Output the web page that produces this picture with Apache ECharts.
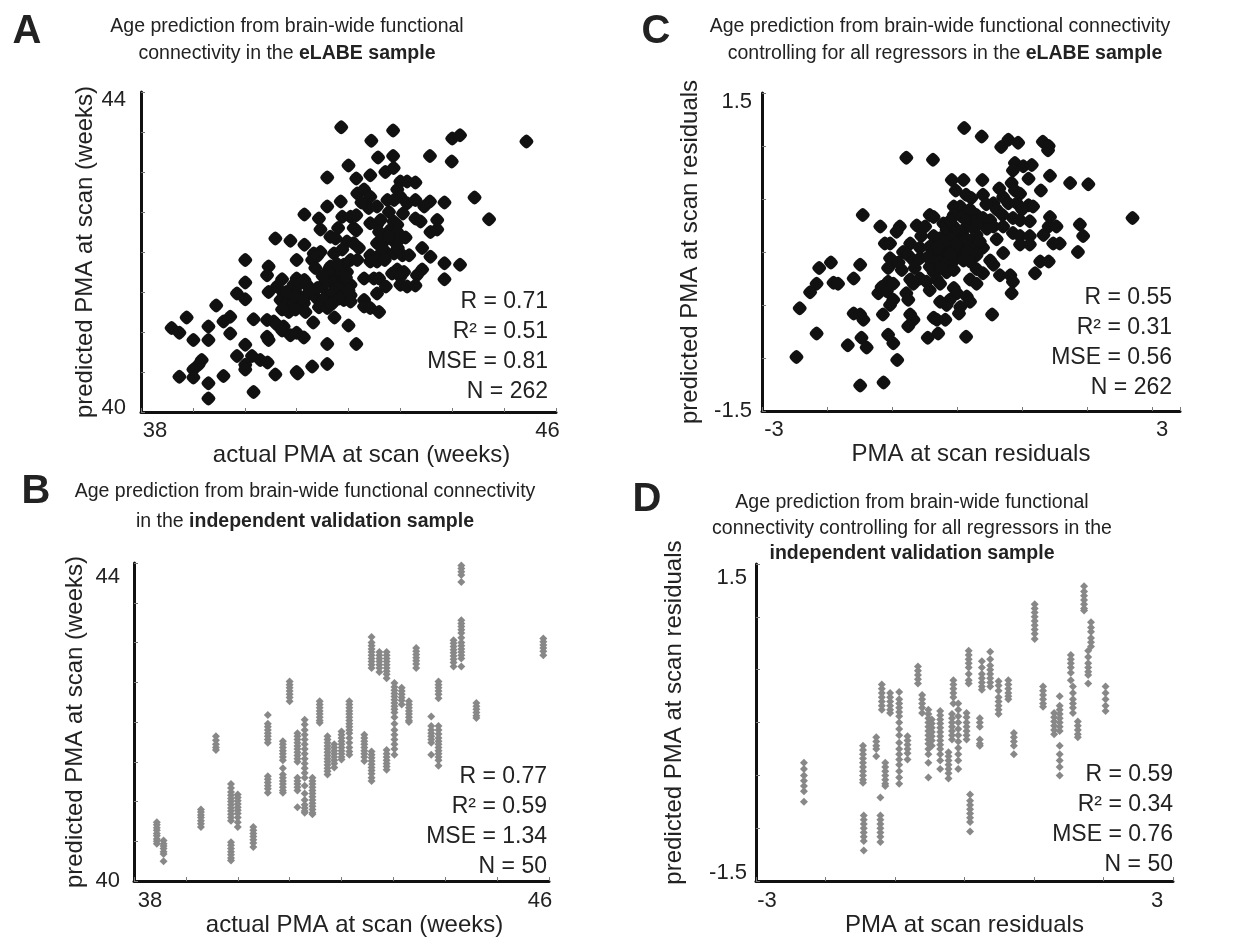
<!DOCTYPE html>
<html><head><meta charset="utf-8">
<script src="https://cdn.jsdelivr.net/npm/echarts@6/dist/echarts.min.js"></script>
<style>html,body{margin:0;padding:0;background:#fff}#c{width:1250px;height:938px}</style>
</head><body><div id="c"></div>
<script>
// ---------- DATA ----------
// Panel A: eLABE sample, actual vs predicted PMA (weeks)
const ptsA = [[41.86,43.56],[42.86,43.52],[42.44,43.39],[44.0,43.42],[44.15,43.46],[45.43,43.38],[42.57,43.18],[42.86,43.2],[43.57,43.2],[43.99,43.13],[42.0,43.08],[42.71,43.0],[42.87,43.05],[41.59,42.93],[42.15,42.92],[42.42,42.96],[43.0,42.88],[43.13,42.88],[43.29,42.87],[42.17,42.73],[42.3,42.78],[42.42,42.69],[42.94,42.78],[43.0,42.69],[43.13,42.61],[42.75,42.65],[42.88,42.65],[44.43,42.68],[41.85,42.63],[43.29,42.65],[43.57,42.63],[43.85,42.62],[41.59,42.57],[42.39,42.55],[42.55,42.57],[43.46,42.57],[41.15,42.47],[41.43,42.42],[41.88,42.44],[42.04,42.44],[42.15,42.46],[42.42,42.36],[42.55,42.34],[42.87,42.38],[42.94,42.34],[43.29,42.42],[43.39,42.38],[43.71,42.4],[44.71,42.41],[41.46,42.28],[42.15,42.27],[42.59,42.25],[42.81,42.28],[42.94,42.25],[43.58,42.25],[43.71,42.28],[40.59,42.17],[40.88,42.14],[41.65,42.19],[41.75,42.17],[41.97,42.13],[42.1,42.11],[42.55,42.11],[42.68,42.13],[42.88,42.13],[42.97,42.15],[41.15,42.09],[43.42,42.05],[41.33,41.98],[41.46,42.0],[41.72,41.98],[41.88,42.03],[42.42,41.96],[42.59,41.96],[42.75,41.98],[42.88,41.98],[43.04,41.96],[43.17,41.96],[43.58,41.94],[40.01,41.9],[41.0,41.9],[41.3,41.9],[42.04,41.9],[42.17,41.9],[42.42,41.88],[42.55,41.88],[43.85,41.86],[44.15,41.84],[40.46,41.82],[41.36,41.8],[41.65,41.82],[41.91,41.84],[42.94,41.78],[43.07,41.75],[43.42,41.78],[40.43,41.71],[41.0,41.67],[41.15,41.65],[41.59,41.73],[41.78,41.71],[41.97,41.75],[42.3,41.67],[42.49,41.67],[42.59,41.67],[42.84,41.73],[43.0,41.69],[43.32,41.71],[43.85,41.66],[40.72,41.66],[40.01,41.62],[40.94,41.59],[41.07,41.61],[41.2,41.59],[41.49,41.57],[41.72,41.59],[41.91,41.61],[42.04,41.59],[40.62,41.57],[43.0,41.59],[43.13,41.57],[43.29,41.58],[42.72,41.57],[40.46,41.5],[40.75,41.48],[39.85,41.48],[40.01,41.41],[41.0,41.48],[41.2,41.46],[41.59,41.46],[41.75,41.44],[41.91,41.48],[42.04,41.46],[42.55,41.48],[40.69,41.4],[40.82,41.36],[40.94,41.38],[41.39,41.42],[41.52,41.4],[41.72,41.38],[41.91,41.4],[42.04,41.38],[42.3,41.4],[41.14,41.36],[39.45,41.33],[41.43,41.31],[41.59,41.3],[42.3,41.32],[42.42,41.3],[42.59,41.25],[40.72,41.28],[40.85,41.25],[40.98,41.28],[41.17,41.25],[38.88,41.18],[39.72,41.19],[39.59,41.13],[40.17,41.16],[40.43,41.15],[40.56,41.13],[40.62,41.09],[40.75,41.07],[41.32,41.12],[41.73,41.18],[38.59,41.05],[38.74,40.99],[39.3,41.07],[39.72,40.98],[40.72,41.02],[40.88,40.96],[41.0,40.99],[41.14,40.93],[42.0,41.08],[39.01,40.9],[39.3,40.9],[40.43,40.94],[40.46,40.9],[40.01,40.84],[41.59,40.85],[42.15,40.85],[39.85,40.7],[40.14,40.7],[40.3,40.65],[40.44,40.62],[39.17,40.65],[39.11,40.59],[39.01,40.53],[40.01,40.59],[40.01,40.53],[41.3,40.57],[41.59,40.6],[41.0,40.5],[41.02,40.48],[40.59,40.47],[38.74,40.44],[39.01,40.43],[39.59,40.45],[39.3,40.36],[40.17,40.25],[39.3,40.17],
[41.65,41.65],[41.8,41.55],[41.85,41.75],[41.7,41.5],[41.55,41.62],[41.95,41.68],[41.82,41.42],[41.62,41.78],[41.78,41.85],[41.5,41.7],[42.0,41.52],[41.68,41.35],[41.4,41.55],[41.25,41.52],[41.1,41.42],[40.95,41.45],[40.8,41.5],[42.65,42.05],[42.78,42.2],[42.7,41.9],[42.95,42.05],[43.1,42.18],[42.62,42.4],[42.78,42.5],[43.05,42.48],[42.25,42.62],[42.1,42.3],[41.8,42.3],[42.2,42.05],[41.4,41.95]];

// Panel C: eLABE sample residuals
const ptsC = [[0.11,1.17],[0.38,1.09],[0.79,1.06],[0.94,1.03],[0.68,0.99],[1.32,1.04],[1.41,1.0],[1.4,0.96],[-0.78,0.89],[-0.37,0.87],[0.89,0.84],[1.02,0.81],[1.15,0.82],[0.86,0.77],[1.43,0.72],[1.74,0.65],[2.02,0.64],[-0.08,0.68],[0.1,0.68],[0.39,0.68],[1.1,0.69],[0.84,0.65],[0.89,0.58],[0.97,0.55],[1.29,0.58],[-0.02,0.58],[0.14,0.54],[0.22,0.51],[0.4,0.54],[0.71,0.52],[0.79,0.46],[0.92,0.46],[1.1,0.44],[1.17,0.43],[-0.05,0.43],[0.05,0.43],[0.56,0.46],[0.61,0.4],[-1.45,0.35],[-0.42,0.35],[-0.36,0.33],[-0.05,0.35],[0.08,0.33],[0.15,0.3],[0.3,0.35],[0.4,0.32],[0.51,0.3],[2.7,0.32],[0.86,0.32],[0.97,0.3],[1.12,0.29],[1.43,0.33],[1.41,0.24],[-1.18,0.24],[-0.88,0.24],[-0.93,0.19],[-0.62,0.25],[-0.49,0.24],[-0.21,0.27],[-0.16,0.21],[-0.05,0.24],[-0.01,0.18],[0.1,0.21],[0.22,0.24],[0.3,0.16],[0.46,0.22],[0.56,0.24],[0.71,0.24],[1.89,0.26],[1.53,0.24],[0.86,0.18],[0.97,0.15],[1.12,0.15],[1.94,0.15],[0.61,0.12],[-0.36,0.15],[-0.26,0.13],[-0.08,0.12],[0.05,0.1],[1.33,0.16],[1.48,0.08],[-1.11,0.08],[-1.03,0.08],[-0.72,0.08],[-0.57,0.04],[-0.42,0.05],[-0.16,0.05],[-0.05,0.02],[0.1,0.05],[0.25,0.05],[0.4,0.04],[1.58,0.08],[0.97,0.07],[1.12,0.07],[1.86,0.0],[-0.83,0.0],[-0.75,-0.03],[-0.36,0.0],[-0.26,-0.01],[-0.13,-0.03],[0.05,-0.01],[0.15,0.0],[0.3,-0.03],[0.71,-0.01],[-1.03,-0.06],[-0.98,-0.09],[-0.67,-0.08],[-0.57,-0.06],[-0.28,-0.09],[-0.16,-0.1],[-0.05,-0.08],[0.1,-0.08],[0.2,-0.09],[0.51,-0.08],[0.56,-0.12],[1.28,-0.09],[1.41,-0.09],[-1.94,-0.1],[-2.12,-0.15],[-1.49,-0.12],[-1.06,-0.15],[-0.85,-0.17],[-0.42,-0.14],[-0.36,-0.19],[-0.16,-0.19],[-0.05,-0.17],[0.3,-0.16],[0.4,-0.2],[1.2,-0.2],[0.66,-0.22],[0.82,-0.22],[-1.59,-0.25],[-1.9,-0.29],[-1.83,-0.3],[-2.16,-0.3],[-1.06,-0.28],[-0.98,-0.3],[-0.72,-0.26],[-0.67,-0.3],[-0.57,-0.25],[-0.47,-0.28],[-0.31,-0.26],[-0.26,-0.3],[0.2,-0.26],[0.3,-0.3],[0.86,-0.28],[-2.26,-0.38],[-1.21,-0.39],[-1.16,-0.33],[-1.08,-0.37],[-0.78,-0.39],[-0.42,-0.36],[-0.05,-0.34],[0.0,-0.39],[0.84,-0.39],[-0.98,-0.45],[-0.75,-0.45],[-1.03,-0.5],[0.15,-0.42],[0.2,-0.47],[-0.11,-0.45],[-0.16,-0.5],[-0.26,-0.47],[-2.42,-0.53],[0.05,-0.52],[0.03,-0.58],[-1.59,-0.58],[-1.49,-0.59],[-1.44,-0.64],[-1.14,-0.59],[-0.72,-0.59],[-0.67,-0.64],[-0.36,-0.62],[-0.31,-0.64],[-0.18,-0.64],[0.54,-0.59],[-0.75,-0.7],[-2.16,-0.77],[-1.06,-0.78],[-0.29,-0.77],[-0.45,-0.81],[0.14,-0.8],[-1.47,-0.81],[-0.98,-0.86],[-1.68,-0.88],[-1.39,-0.9],[-2.47,-0.99],[-0.92,-1.02],[-1.49,-1.26],[-1.13,-1.23],
[-0.2,0.1],[-0.1,-0.02],[0.0,0.08],[-0.3,0.05],[0.15,0.12],[-0.45,-0.05],[0.35,0.1],[0.45,0.45],[0.7,0.35],[-0.55,0.15],[-0.65,-0.15],[0.2,0.4],[0.65,0.6],[1.0,0.4],[-0.9,-0.1],[-0.1,0.3],[0.3,0.25],[-0.25,-0.15]];

// Panel B: independent validation sample, one strip per subject [actual PMA, predicted values]
const stripsB = [
[38.44,[40.74,40.71,40.67,40.64,40.6,40.57,40.53,40.5,40.47]],
[38.57,[40.51,40.47,40.44,40.41,40.37,40.34,40.25]],
[39.29,[40.9,40.87,40.83,40.8,40.76,40.72,40.68]],
[39.58,[41.82,41.77,41.72,41.68,41.65]],
[39.87,[41.22,41.17,41.12,41.08,41.04,41.0,40.96,40.92,40.88,40.84,40.8,40.76]],
[39.87,[40.49,40.45,40.41,40.37,40.33,40.29,40.26]],
[40.0,[41.09,41.05,41.01,40.97,40.93,40.89,40.85,40.8,40.74,40.68]],
[40.3,[40.68,40.64,40.6,40.56,40.52,40.48,40.43]],
[40.58,[42.09,41.98,41.94,41.9,41.86,41.82,41.78,41.74]],
[40.58,[41.32,41.28,41.24,41.2,41.16,41.11]],
[40.87,[41.76,41.72,41.68,41.64,41.6,41.56,41.52,41.42,41.34,41.3,41.26,41.22,41.18,41.14,41.11]],
[41.0,[42.51,42.47,42.43,42.39,42.35,42.31,42.26]],
[41.15,[41.86,41.82,41.78,41.74,41.7,41.66,41.62,41.58,41.54,41.5,41.3,41.26,41.22,41.18,41.14,40.93]],
[41.29,[42.03,41.97,41.9,41.84,41.78,41.72,41.66,41.6,41.54,41.48,41.42,41.36,41.3,41.2,41.1,41.02,40.96,40.92,40.88,40.86]],
[41.44,[41.3,41.26,41.22,41.18,41.14,41.1,41.06,41.02,40.98,40.94,40.9,40.86,40.84]],
[41.58,[42.26,42.22,42.18,42.14,42.1,42.06,42.02,41.99]],
[41.73,[41.82,41.78,41.74,41.7,41.66,41.62,41.58,41.54,41.5,41.46,41.42,41.38,41.34]],
[41.86,[41.72,41.68,41.64,41.6,41.56,41.52,41.48,41.43]],
[42.0,[41.88,41.84,41.8,41.76,41.72,41.68,41.64,41.6,41.56,41.53]],
[42.15,[42.26,42.22,42.18,42.14,42.1,42.06,42.02,41.98,41.94,41.9,41.86,41.8,41.74,41.68,41.63,41.59]],
[42.44,[41.84,41.8,41.76,41.72,41.68,41.64,41.6,41.56,41.51]],
[42.58,[43.07,43.0,42.96,42.92,42.88,42.84,42.8,42.76,42.72,42.68]],
[42.58,[41.63,41.59,41.55,41.51,41.47,41.43,41.39,41.35,41.3,41.26]],
[42.73,[42.88,42.84,42.8,42.76,42.72,42.68,42.63]],
[42.87,[42.88,42.84,42.8,42.76,42.72,42.68,42.64,42.6,42.55]],
[42.87,[41.65,41.6,41.56,41.52,41.48,41.44,41.4]],
[43.02,[42.49,42.44,42.4,42.36,42.32,42.28,42.24,42.2,42.16,42.12,42.06,41.98,41.9,41.84,41.78,41.72,41.66,41.59]],
[43.16,[42.43,42.39,42.35,42.31,42.27,42.22]],
[43.3,[42.26,42.22,42.18,42.14,42.1,42.06,42.02,42.0]],
[43.44,[42.93,42.89,42.85,42.81,42.77,42.73,42.68]],
[43.73,[42.07,41.95,41.9,41.86,41.82,41.78,41.74,41.59]],
[43.87,[42.51,42.47,42.43,42.39,42.35,42.3]],
[43.87,[41.95,41.9,41.85,41.8,41.76,41.72,41.68,41.64,41.6,41.56,41.52,41.45]],
[44.16,[43.03,42.99,42.95,42.91,42.87,42.83,42.79,42.75,42.7]],
[44.31,[44.01,43.97,43.93,43.89,43.85,43.76]],
[44.31,[43.28,43.24,43.2,43.16,43.12,43.06,43.0,42.96,42.92,42.88,42.84,42.8,42.7]],
[44.6,[42.24,42.2,42.16,42.12,42.08,42.05]],
[45.89,[43.05,43.01,42.97,42.93,42.89,42.84]]];

// Panel D: independent validation sample residuals
const stripsD = [
[-2.31,[-0.38,-0.44,-0.5,-0.55,-0.6,-0.65,-0.75]],
[-1.46,[-0.22,-0.26,-0.3,-0.34,-0.38,-0.42,-0.46,-0.5,-0.54,-0.57]],
[-1.45,[-0.88,-0.92,-0.96,-1.0,-1.04,-1.08,-1.12,-1.21]],
[-1.27,[-0.14,-0.18,-0.22,-0.25,-0.32]],
[-1.21,[-0.71,-0.88,-0.92,-0.96,-1.0,-1.04,-1.08,-1.13]],
[-1.19,[0.36,0.32,0.28,0.24,0.2,0.16,0.12]],
[-1.14,[-0.38,-0.42,-0.46,-0.5,-0.54,-0.58,-0.6]],
[-1.07,[0.28,0.24,0.2,0.16,0.12,0.09]],
[-0.94,[0.29,0.22,0.18,0.14,0.1,0.06,0.0,-0.06,-0.12,-0.19,-0.25,-0.3,-0.35,-0.4,-0.46,-0.52,-0.58]],
[-0.82,[-0.13,-0.17,-0.21,-0.25,-0.29,-0.35]],
[-0.67,[0.53,0.49,0.45,0.41,0.37]],
[-0.61,[0.26,0.22,0.18,0.14,0.09]],
[-0.52,[0.12,0.08,0.04,0.0,-0.04,-0.08,-0.12,-0.16,-0.2,-0.25,-0.3,-0.38,-0.52]],
[-0.47,[0.03,-0.01,-0.05,-0.09,-0.13,-0.17,-0.22]],
[-0.35,[0.11,0.07,0.03,-0.01,-0.05,-0.09,-0.13,-0.17,-0.21,-0.25,-0.3,-0.36,-0.44]],
[-0.23,[-0.28,-0.32,-0.36,-0.4,-0.44,-0.48,-0.53]],
[-0.18,[0.08,0.04,0.0,-0.04,-0.08,-0.12,-0.16]],
[-0.16,[0.4,0.36,0.32,0.28,0.24,0.18]],
[-0.09,[0.18,0.12,0.06,0.0,-0.06,-0.12,-0.18,-0.24,-0.3,-0.36,-0.44]],
[0.03,[0.09,0.05,0.0,-0.04,-0.08,-0.12,-0.16]],
[0.06,[0.68,0.64,0.6,0.56,0.52,0.46,0.4,0.37]],
[0.08,[-0.68,-0.74,-0.78,-0.82,-0.86,-0.9,-0.94,-1.03]],
[0.22,[0.04,0.0,-0.04,-0.16,-0.2,-0.22]],
[0.25,[0.58,0.52,0.46,0.42,0.38,0.34,0.31]],
[0.37,[0.67,0.6,0.54,0.5,0.46,0.42,0.38,0.34]],
[0.49,[0.39,0.35,0.3,0.24,0.2,0.16,0.12,0.08]],
[0.63,[0.4,0.36,0.32,0.28,0.25,0.22]],
[0.71,[-0.1,-0.14,-0.18,-0.22,-0.3]],
[1.01,[1.12,1.08,1.04,1.0,0.96,0.92,0.88,0.84,0.79]],
[1.13,[0.34,0.3,0.26,0.22,0.18,0.15]],
[1.29,[0.09,0.05,0.01,-0.03,-0.07,-0.11]],
[1.37,[0.25,0.16,0.12,0.08,0.04,0.0,-0.04,-0.08,-0.22,-0.3,-0.36,-0.42,-0.5]],
[1.53,[0.64,0.6,0.56,0.52,0.47,0.4]],
[1.56,[0.34,0.28,0.22,0.18,0.14,0.09]],
[1.63,[0.01,-0.03,-0.07,-0.11,-0.14]],
[1.72,[1.29,1.24,1.2,1.16,1.12,1.08,1.06]],
[1.78,[0.68,0.62,0.56,0.52,0.48,0.45,0.37]],
[1.82,[0.95,0.9,0.86,0.8,0.76,0.72]],
[2.03,[0.34,0.28,0.22,0.16,0.11]]];

// Tick labels shown on each axis
const xLabelsA = [38, 46], yLabelsA = [40, 44];
const xLabelsB = [38, 46], yLabelsB = [40, 44];
const xLabelsC = [-3, 3], yLabelsC = [-1.5, 1.5];
const xLabelsD = [-3, 3], yLabelsD = [-1.5, 1.5];

const statsA = ['R = 0.71', 'R² = 0.51', 'MSE = 0.81', 'N = 262'];
const statsB = ['R = 0.77', 'R² = 0.59', 'MSE = 1.34', 'N = 50'];
const statsC = ['R = 0.55', 'R² = 0.31', 'MSE = 0.56', 'N = 262'];
const statsD = ['R = 0.59', 'R² = 0.34', 'MSE = 0.76', 'N = 50'];

// ---------- STYLE / LAYOUT ----------
const FONT = '"Liberation Sans", Arial, Helvetica, sans-serif';
const TXT = '#222';
const ROUND_DIAMOND = 'path://M50,0 C64,0 100,36 100,50 C100,64 64,100 50,100 C36,100 0,64 0,50 C0,36 36,0 50,0 Z';
const chart = echarts.init(document.getElementById('c'), null, {renderer: 'canvas'});

function strips(list) { return list.flatMap(([x, ys]) => ys.map(y => [x, y])); }

function mkAxis(grid, min, max, interval, labels, name, gap, margin, richMin, richMax, namePad) {
  return {
    type: 'value', gridIndex: grid, min, max, interval,
    name, nameLocation: 'middle', nameGap: gap,
    nameTextStyle: {fontFamily: FONT, fontSize: 24, color: TXT, padding: namePad || 0},
    axisLine: {show: true, onZero: false, lineStyle: {color: '#111', width: 3}},
    axisTick: {show: true, inside: true, length: 4, lineStyle: {color: '#777', width: 1}},
    splitLine: {show: false},
    axisLabel: {
      show: true, margin, fontFamily: FONT, fontSize: 22, color: TXT, showMinLabel: true, showMaxLabel: true,
      formatter: v => {
        if (Math.abs(v - labels[0]) < 1e-9) return '{a|' + labels[0] + '}';
        if (Math.abs(v - labels[1]) < 1e-9) return '{b|' + labels[1] + '}';
        return '';
      },
      rich: {a: {fontFamily: FONT, fontSize: 22, color: TXT, padding: richMin},
             b: {fontFamily: FONT, fontSize: 22, color: TXT, padding: richMax}}
    }
  };
}

function txt(x, y, text, size, opts) {
  opts = opts || {};
  return {
    type: 'text', x, y, silent: true,
    style: Object.assign({
      text, fontFamily: FONT, fontSize: size, fill: TXT,
      align: opts.align || 'center', textAlign: opts.align || 'center',
      verticalAlign: 'middle', textVerticalAlign: 'middle',
      fontWeight: opts.bold ? 'bold' : 'normal'
    }, opts.rich ? {rich: opts.rich} : {})
  };
}
const TS = 19.5;
const titleRich = {n: {fontFamily: FONT, fontSize: TS, fill: TXT, color: TXT},
                   b: {fontFamily: FONT, fontSize: TS, fontWeight: 'bold', fill: TXT, color: TXT}};

function statBlock(xRight, yTop, lines) {
  return lines.map((s, i) => txt(xRight, yTop + i * 30, s, 23, {align: 'right'}));
}

const graphics = [
  txt(27, 32, 'A', 40, {bold: true}),
  txt(656, 32, 'C', 40, {bold: true}),
  txt(36, 492, 'B', 40, {bold: true}),
  txt(647, 500, 'D', 40, {bold: true}),
  txt(287, 27, 'Age prediction from brain-wide functional', TS),
  txt(287, 54, '{n|connectivity in the }{b|eLABE sample}', TS, {rich: titleRich}),
  txt(940, 27, 'Age prediction from brain-wide functional connectivity', TS),
  txt(945, 54, '{n|controlling for all regressors in the }{b|eLABE sample}', TS, {rich: titleRich}),
  txt(305, 492, 'Age prediction from brain-wide functional connectivity', TS),
  txt(305, 522, '{n|in the }{b|independent validation sample}', TS, {rich: titleRich}),
  txt(912, 503, 'Age prediction from brain-wide functional', TS),
  txt(912, 529, 'connectivity controlling for all regressors in the', TS),
  txt(912, 554, '{b|independent validation sample}', TS, {rich: titleRich}),
  ...statBlock(548, 302, statsA),
  ...statBlock(1172, 298, statsC),
  ...statBlock(547, 777, statsB),
  ...statBlock(1173, 775, statsD)
];

const option = {
  animation: false,
  backgroundColor: '#fff',
  grid: [
    {left: 141, right: 694, top: 92, bottom: 526},
    {left: 762, right: 70, top: 93, bottom: 527},
    {left: 134, right: 701, top: 563, bottom: 54},
    {left: 756, right: 77, top: 564, bottom: 55}
  ],
  xAxis: [
    mkAxis(0, 38, 46, 1, xLabelsA, 'actual PMA at scan (weeks)', 29, 8, [0,0,0,28], [0,17,0,0], [0,0,0,26]),
    mkAxis(1, -3, 3.43, 1, xLabelsC, 'PMA at scan residuals', 27, 8, [0,0,0,24], [0,0,0,20]),
    mkAxis(2, 38, 46, 1, xLabelsB, 'actual PMA at scan (weeks)', 30, 9, [0,0,0,32], [0,18,0,0], [0,0,0,26]),
    mkAxis(3, -3, 3, 1, xLabelsD, 'PMA at scan residuals', 30, 9, [0,0,0,22], [0,32,0,0])
  ],
  yAxis: [
    mkAxis(0, 40, 44, 0.5, yLabelsA, 'predicted PMA at scan (weeks)', 34, 15, [0,0,8,0], [16,0,0,0]),
    mkAxis(1, -1.5, 1.5, 0.5, yLabelsC, 'predicted PMA at scan residuals', 60, 10, [0,0,0,0], [18,0,0,0]),
    mkAxis(2, 40, 44, 0.5, yLabelsB, 'predicted PMA at scan (weeks)', 47, 14, [0,0,0,0], [28,0,0,0]),
    mkAxis(3, -1.5, 1.5, 0.5, yLabelsD, 'predicted PMA at scan residuals', 70, 9, [0,0,16,0], [28,0,0,0], [0,0,0,20])
  ],
  series: [
    {type: 'scatter', xAxisIndex: 0, yAxisIndex: 0, data: ptsA, symbol: ROUND_DIAMOND, symbolSize: 14,
     itemStyle: {color: '#111', opacity: 1}, silent: true},
    {type: 'scatter', xAxisIndex: 1, yAxisIndex: 1, data: ptsC, symbol: ROUND_DIAMOND, symbolSize: 14,
     itemStyle: {color: '#111', opacity: 1}, silent: true},
    {type: 'scatter', xAxisIndex: 2, yAxisIndex: 2, data: strips(stripsB), symbol: 'diamond', symbolSize: [8, 8],
     itemStyle: {color: '#888', opacity: 1}, silent: true},
    {type: 'scatter', xAxisIndex: 3, yAxisIndex: 3, data: strips(stripsD), symbol: 'diamond', symbolSize: [8, 8],
     itemStyle: {color: '#888', opacity: 1}, silent: true}
  ],
  graphic: graphics
};
chart.setOption(option);
</script></body></html>
